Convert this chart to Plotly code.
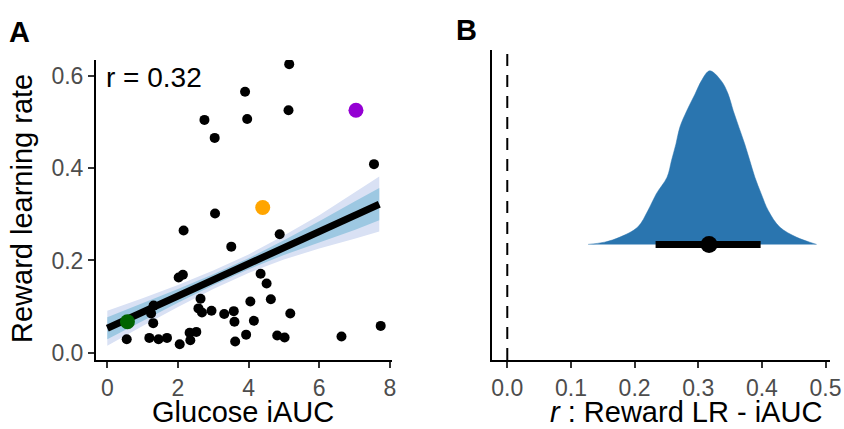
import plotly.graph_objects as go

# ---------------- Data ----------------
# Panel A: scatter (Glucose iAUC vs Reward learning rate)
glucose_iauc = [5.15, 3.90, 5.13, 2.75, 3.96, 3.04, 7.55, 3.05, 2.16, 4.88, 3.51,
                2.02, 2.14, 4.34, 4.51, 2.64, 4.63, 4.05, 1.31, 1.24, 2.58, 2.68,
                2.95, 3.31, 3.58, 5.18, 1.30, 3.60, 4.15, 7.74, 0.55, 1.19, 1.45,
                1.69, 2.05, 2.33, 2.52, 2.35, 3.62, 3.93, 4.81, 5.02, 6.63]
reward_lr = [0.626, 0.566, 0.526, 0.505, 0.507, 0.466, 0.409, 0.302, 0.265, 0.257, 0.230,
             0.163, 0.169, 0.171, 0.150, 0.117, 0.116, 0.111, 0.102, 0.085, 0.096, 0.087,
             0.091, 0.084, 0.090, 0.085, 0.064, 0.067, 0.069, 0.058, 0.029, 0.032, 0.029,
             0.032, 0.018, 0.043, 0.045, 0.027, 0.024, 0.039, 0.037, 0.033, 0.035]

highlight_x = [7.04, 4.40, 0.57]
highlight_y = [0.526, 0.315, 0.067]
highlight_colors = ["#9400D3", "#FFA500", "#006400"]

# regression fit and credible bands
fit_x = [0, 1, 2, 3, 4, 5, 6, 7, 7.70]
fit_y = [0.053, 0.088, 0.123, 0.158, 0.193, 0.228, 0.262, 0.297, 0.322]
outer_lo = [0.015, 0.058, 0.099, 0.138, 0.173, 0.202, 0.226, 0.247, 0.263]
outer_hi = [0.091, 0.118, 0.147, 0.178, 0.213, 0.254, 0.298, 0.347, 0.382]
inner_lo = [0.029, 0.069, 0.108, 0.146, 0.181, 0.212, 0.239, 0.266, 0.287]
inner_hi = [0.077, 0.107, 0.138, 0.170, 0.205, 0.244, 0.285, 0.328, 0.357]

r_label = "r = 0.32"

# Panel B: posterior density of r
dens_r = [0.127, 0.153, 0.177, 0.205, 0.221, 0.234, 0.251, 0.258, 0.265, 0.271, 0.282,
          0.295, 0.305, 0.318, 0.336, 0.347, 0.355, 0.364, 0.373, 0.381, 0.389,
          0.399, 0.410, 0.428, 0.454, 0.475, 0.486]
dens_h = [0.0, 0.013, 0.042, 0.100, 0.195, 0.291, 0.387, 0.483, 0.579, 0.674, 0.770,
          0.866, 0.943, 1.0, 0.943, 0.866, 0.770, 0.674, 0.579, 0.483, 0.387,
          0.291, 0.195, 0.100, 0.042, 0.013, 0.0]
r_point = 0.317
r_interval = [0.233, 0.398]

xa_ticks = [0, 2, 4, 6, 8]
ya_ticks = [0.0, 0.2, 0.4, 0.6]
ya_labels = ["0.0", "0.2", "0.4", "0.6"]
xb_ticks = [0.0, 0.1, 0.2, 0.3, 0.4, 0.5]
xb_labels = ["0.0", "0.1", "0.2", "0.3", "0.4", "0.5"]

# ---------------- Figure ----------------
W, H = 844, 429
FONT = "Liberation Sans, Arial, sans-serif"
fig = go.Figure()

# Panel A
fig.add_trace(go.Scatter(x=fit_x + fit_x[::-1], y=outer_hi + outer_lo[::-1], fill="toself",
                         fillcolor="#D9E1F4", line=dict(width=0), mode="lines",
                         hoverinfo="skip", xaxis="x", yaxis="y"))
fig.add_trace(go.Scatter(x=fit_x + fit_x[::-1], y=inner_hi + inner_lo[::-1], fill="toself",
                         fillcolor="#9DC8E2", line=dict(width=0), mode="lines",
                         hoverinfo="skip", xaxis="x", yaxis="y"))
fig.add_trace(go.Scatter(x=glucose_iauc, y=reward_lr, mode="markers",
                         marker=dict(color="black", size=10), xaxis="x", yaxis="y"))
fig.add_trace(go.Scatter(x=fit_x, y=fit_y, mode="lines",
                         line=dict(color="black", width=7), xaxis="x", yaxis="y"))
fig.add_trace(go.Scatter(x=highlight_x, y=highlight_y, mode="markers",
                         marker=dict(color=highlight_colors, size=15), xaxis="x", yaxis="y"))

# Panel B
fig.add_trace(go.Scatter(x=dens_r, y=dens_h, mode="lines", fill="tozeroy",
                         fillcolor="#2A75AF", line=dict(color="#2A75AF", width=0.5, shape="spline"),
                         xaxis="x2", yaxis="y2"))
fig.add_trace(go.Scatter(x=r_interval, y=[0, 0], mode="lines",
                         line=dict(color="black", width=7), xaxis="x2", yaxis="y2"))
fig.add_trace(go.Scatter(x=[r_point], y=[0], mode="markers",
                         marker=dict(color="black", size=17), xaxis="x2", yaxis="y2"))
fig.add_trace(go.Scatter(x=[0, 0], y=[-0.666, 1.12], mode="lines",
                         line=dict(color="black", width=2, dash="12px,9px"),
                         xaxis="x2", yaxis="y2"))

tickfont = dict(family=FONT, size=23, color="#4D4D4D")
common = dict(showgrid=False, zeroline=False, showline=True, linecolor="black", linewidth=2,
              ticks="outside", ticklen=6, tickwidth=2, tickcolor="#333333", tickfont=tickfont,
              automargin=False)

fig.update_layout(
    width=W, height=H, margin=dict(l=0, r=0, t=0, b=0),
    paper_bgcolor="white", plot_bgcolor="white", showlegend=False,
    xaxis=dict(domain=[96 / W, 392 / W], range=[-0.32, 8.06], tickvals=xa_ticks,
               anchor="y", **common),
    yaxis=dict(domain=[(H - 360) / H, (H - 60) / H], range=[-0.016, 0.635],
               tickvals=ya_ticks, ticktext=ya_labels, anchor="x", **common),
    xaxis2=dict(domain=[492 / W, 830 / W], range=[-0.024, 0.507], tickvals=xb_ticks,
                ticktext=xb_labels, anchor="y2", **common),
    yaxis2=dict(domain=[(H - 360) / H, (H - 50) / H], range=[-0.666, 1.12],
                showgrid=False, zeroline=False, showline=True, linecolor="black",
                linewidth=2, ticks="", showticklabels=False, anchor="x2", automargin=False),
)

title_font = dict(family=FONT, size=29, color="black")
fig.add_annotation(text="Glucose iAUC", xref="paper", yref="paper", x=243 / W, y=(H - 412) / H,
                   showarrow=False, font=title_font, xanchor="center", yanchor="middle")
fig.add_annotation(text="Reward learning rate", xref="paper", yref="paper", x=22 / W,
                   y=(H - 209) / H, showarrow=False, font=title_font, textangle=-90,
                   xanchor="center", yanchor="middle")
fig.add_annotation(text="<i>r</i> : Reward LR - iAUC", xref="paper", yref="paper",
                   x=686 / W, y=(H - 412) / H, showarrow=False, font=title_font,
                   xanchor="center", yanchor="middle")
fig.add_annotation(text=r_label, xref="paper", yref="paper", x=104 / W, y=(H - 77) / H,
                   showarrow=False, font=dict(family=FONT, size=28, color="black"),
                   xanchor="left", yanchor="middle")
fig.add_annotation(text="<b>A</b>", xref="paper", yref="paper", x=7 / W, y=(H - 32) / H,
                   showarrow=False, font=dict(family=FONT, size=29, color="black"),
                   xanchor="left", yanchor="middle")
fig.add_annotation(text="<b>B</b>", xref="paper", yref="paper", x=454 / W, y=(H - 30) / H,
                   showarrow=False, font=dict(family=FONT, size=29, color="black"),
                   xanchor="left", yanchor="middle")

fig.write_html("out.html", config={"displayModeBar": False},
               post_script="document.body.style.margin='0';")
